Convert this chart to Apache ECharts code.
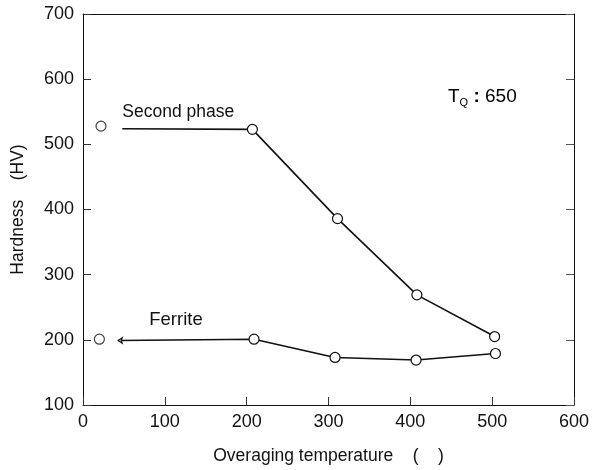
<!DOCTYPE html>
<html>
<head>
<meta charset="utf-8">
<script src="https://cdn.jsdelivr.net/npm/echarts@6/dist/echarts.min.js"></script>
<style>html,body{margin:0;padding:0;background:#fff}#c{width:594px;height:470px}</style>
</head>
<body>
<div id="c"></div>
<script>
var xTicks = [0, 100, 200, 300, 400, 500, 600];
var yTicks = [100, 200, 300, 400, 500, 600, 700];
var secondIsoX = [22];
var secondIsoY = [528];
var secondX = [48, 207, 311, 408, 503];
var secondY = [524, 523, 386, 269, 205];
var ferriteIsoX = [20];
var ferriteIsoY = [201];
var ferriteX = [43, 209, 308, 407, 504];
var ferriteY = [199, 201, 173, 169, 179];
var labelSecond = {text: 'Second phase', x: 48, y: 549};
var labelFerrite = {text: 'Ferrite', x: 81, y: 230};
var labelTq = {x: 446, y: 573};

var FONT = 'Liberation Sans, Arial, sans-serif';
var FS = 17.5;
var TICKFS = 18;
var TXT = '#111';

function pairs(xs, ys) { return xs.map(function (x, i) { return [x, ys[i]]; }); }

var secondLine = pairs(secondX, secondY).map(function (p, i) {
  return i === 0 ? {value: p, symbol: 'none'} : {value: p};
});
var ferriteLine = pairs(ferriteX, ferriteY).map(function (p, i) {
  return i === 0 ? {value: p, symbol: 'arrow', symbolSize: [4, 4], symbolRotate: 90} : {value: p};
});

var chart = echarts.init(document.getElementById('c'), null, {renderer: 'canvas'});
var markerStyle = {color: '#fff', borderColor: '#111', borderWidth: 1.2};

chart.setOption({
  animation: false,
  backgroundColor: '#fff',
  grid: {left: 83, right: 20, top: 14, bottom: 63, show: false},
  xAxis: [{
    type: 'value', min: xTicks[0], max: xTicks[xTicks.length - 1], interval: 100,
    name: 'Overaging temperature    (    )', nameLocation: 'middle', nameGap: 42,
    nameTextStyle: {fontFamily: FONT, fontSize: FS, color: TXT},
    axisLine: {show: true, onZero: false, lineStyle: {color: '#111', width: 1}},
    axisTick: {show: true, inside: true, length: 8, lineStyle: {color: '#333'}},
    axisLabel: {fontFamily: FONT, fontSize: TICKFS, color: TXT, margin: 8},
    splitLine: {show: false}
  }, {
    type: 'value', position: 'top', min: xTicks[0], max: xTicks[xTicks.length - 1], interval: 100,
    axisLine: {show: true, onZero: false, lineStyle: {color: '#111', width: 1}},
    axisTick: {show: false}, axisLabel: {show: false}, splitLine: {show: false}
  }],
  yAxis: [{
    type: 'value', min: yTicks[0], max: yTicks[yTicks.length - 1], interval: 100,
    name: 'Hardness    (HV)', nameLocation: 'middle', nameGap: 56,
    nameTextStyle: {fontFamily: FONT, fontSize: FS, color: TXT},
    axisLine: {show: true, onZero: false, lineStyle: {color: '#111', width: 1}},
    axisTick: {show: true, inside: true, length: 8, lineStyle: {color: '#333'}},
    axisLabel: {fontFamily: FONT, fontSize: TICKFS, color: TXT, margin: 9},
    splitLine: {show: false}
  }, {
    type: 'value', position: 'right', min: yTicks[0], max: yTicks[yTicks.length - 1], interval: 100,
    axisLine: {show: true, onZero: false, lineStyle: {color: '#111', width: 1}},
    axisTick: {show: true, inside: true, length: 8, lineStyle: {color: '#555'}},
    axisLabel: {show: false}, splitLine: {show: false}
  }],
  series: [{
    name: 'Second phase', type: 'line', data: secondLine,
    symbol: 'circle', symbolSize: 10, showAllSymbol: true,
    lineStyle: {color: '#111', width: 1.6}, itemStyle: markerStyle, z: 3
  }, {
    name: 'Second phase iso', type: 'scatter', data: pairs(secondIsoX, secondIsoY),
    symbol: 'circle', symbolSize: 10, itemStyle: markerStyle
  }, {
    name: 'Ferrite', type: 'line', data: ferriteLine,
    symbol: 'circle', symbolSize: 10, showAllSymbol: true,
    lineStyle: {color: '#111', width: 1.6}, itemStyle: markerStyle, z: 3
  }, {
    name: 'Ferrite iso', type: 'scatter', data: pairs(ferriteIsoX, ferriteIsoY),
    symbol: 'circle', symbolSize: 10, itemStyle: markerStyle
  }]
});

function px(x, y) { return chart.convertToPixel({gridIndex: 0}, [x, y]); }
var pS = px(labelSecond.x, labelSecond.y);
var pF = px(labelFerrite.x, labelFerrite.y);
var pT = px(labelTq.x, labelTq.y);
chart.setOption({
  graphic: [
    {type: 'text', x: pS[0], y: pS[1], style: {text: labelSecond.text, fontFamily: FONT, fontSize: FS, fill: TXT, verticalAlign: 'middle', align: 'left'}},
    {type: 'text', x: pF[0], y: pF[1], style: {text: labelFerrite.text, fontFamily: FONT, fontSize: 18.5, fill: TXT, verticalAlign: 'middle', align: 'left'}},
    {type: 'text', x: pT[0], y: pT[1], style: {
      text: '{a|T}{b|Q}{c| :}{a| 650}', verticalAlign: 'middle', align: 'left',
      rich: {
        a: {fontFamily: FONT, fontSize: 19, color: TXT, verticalAlign: 'bottom', height: 20},
        b: {fontFamily: FONT, fontSize: 11, color: TXT, verticalAlign: 'bottom', height: 14, padding: [0, 0, -3, 0]},
        c: {fontFamily: FONT, fontSize: 19, fontWeight: 'bold', color: TXT, verticalAlign: 'bottom', height: 20}
      }
    }}
  ]
});
</script>
</body>
</html>
